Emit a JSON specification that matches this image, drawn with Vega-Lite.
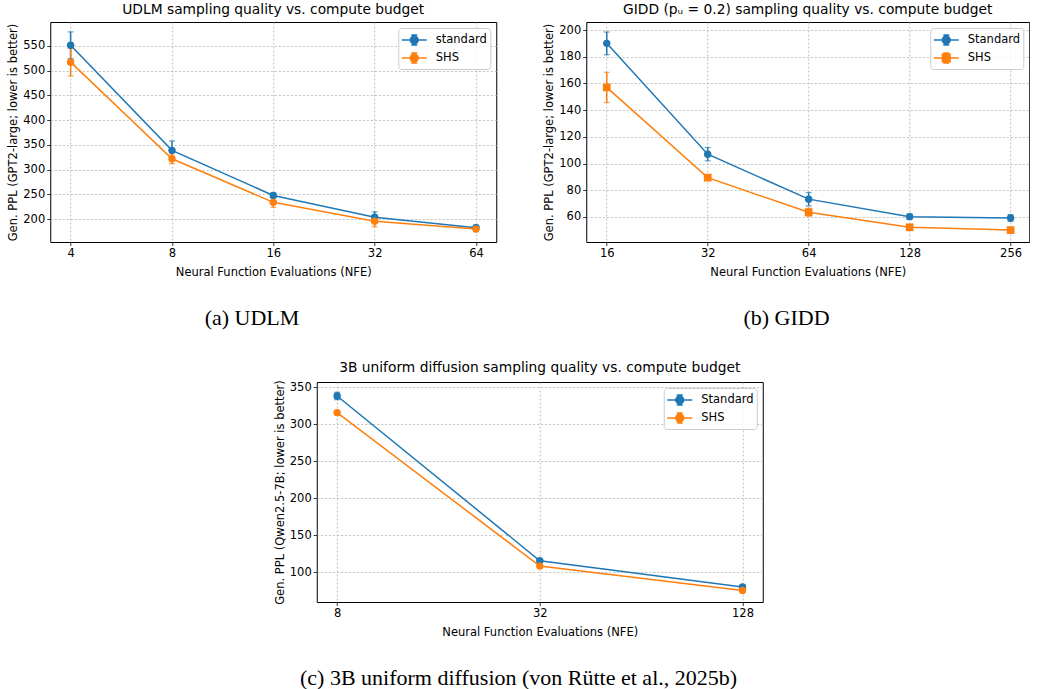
{
  "$schema": "https://vega.github.io/schema/vega-lite/v6.json",
  "background": "white",
  "padding": {"left": 7, "top": 2, "right": 0, "bottom": 0},
  "config": {
    "font": "DejaVu Sans",
    "view": {"stroke": "black", "strokeWidth": 1},
    "axis": {
      "labelFont": "DejaVu Sans", "labelFontSize": 11.5, "labelColor": "black", "labelOverlap": false,
      "titleFont": "DejaVu Sans", "titleFontSize": 11.5, "titleFontWeight": "normal", "titleColor": "black",
      "tickColor": "black", "tickSize": 3.5, "tickWidth": 0.8, "labelPadding": 2, "titlePadding": 4,
      "domain": false, "gridColor": "#b0b0b0", "gridDash": [2, 2], "gridWidth": 0.8
    },
    "axisX": {"titlePadding": 7},
    "title": {"font": "DejaVu Sans", "fontSize": 13.8, "fontWeight": "normal", "color": "black", "frame": "group", "offset": 5},
    "legend": {
      "labelFont": "DejaVu Sans", "labelFontSize": 11.5, "labelColor": "black", "labelOffset": 12, "symbolOffset": 4,
      "strokeColor": "#cccccc", "fillColor": "rgba(255,255,255,0.8)", "cornerRadius": 3, "padding": 2.5,
      "rowPadding": 0, "symbolSize": 289, "title": null, "orient": "top-right", "offset": 6
    }
  },
  "datasets": {
    "a": [
      {"nfe": 4, "method": "standard", "ppl": 551, "lo": 524, "hi": 578},
      {"nfe": 8, "method": "standard", "ppl": 339, "lo": 320, "hi": 358},
      {"nfe": 16, "method": "standard", "ppl": 248, "lo": 243, "hi": 253},
      {"nfe": 32, "method": "standard", "ppl": 204, "lo": 193, "hi": 215},
      {"nfe": 64, "method": "standard", "ppl": 183, "lo": 178, "hi": 188},
      {"nfe": 4, "method": "SHS", "ppl": 517, "lo": 489, "hi": 545},
      {"nfe": 8, "method": "SHS", "ppl": 322, "lo": 312, "hi": 332},
      {"nfe": 16, "method": "SHS", "ppl": 234, "lo": 224, "hi": 244},
      {"nfe": 32, "method": "SHS", "ppl": 196, "lo": 185, "hi": 207},
      {"nfe": 64, "method": "SHS", "ppl": 180, "lo": 175, "hi": 185}
    ],
    "b": [
      {"nfe": 16, "method": "Standard", "ppl": 190, "lo": 181.5, "hi": 198.5},
      {"nfe": 32, "method": "Standard", "ppl": 107, "lo": 102, "hi": 112},
      {"nfe": 64, "method": "Standard", "ppl": 73.3, "lo": 68.3, "hi": 78.3},
      {"nfe": 128, "method": "Standard", "ppl": 60.2, "lo": 58.2, "hi": 62.2},
      {"nfe": 256, "method": "Standard", "ppl": 59.2, "lo": 56.7, "hi": 61.7},
      {"nfe": 16, "method": "SHS", "ppl": 157, "lo": 145.7, "hi": 168.3},
      {"nfe": 32, "method": "SHS", "ppl": 89.4, "lo": 87.9, "hi": 90.9},
      {"nfe": 64, "method": "SHS", "ppl": 63.5, "lo": 60.5, "hi": 66.5},
      {"nfe": 128, "method": "SHS", "ppl": 52.2, "lo": 50.7, "hi": 53.7},
      {"nfe": 256, "method": "SHS", "ppl": 50.1, "lo": 49.1, "hi": 51.1}
    ],
    "c": [
      {"nfe": 8, "method": "Standard", "ppl": 338.4, "lo": 333.4, "hi": 343.4},
      {"nfe": 32, "method": "Standard", "ppl": 115.8, "lo": 113.8, "hi": 117.8},
      {"nfe": 128, "method": "Standard", "ppl": 80.2, "lo": 78.2, "hi": 82.2},
      {"nfe": 8, "method": "SHS", "ppl": 315.9, "lo": 313.9, "hi": 317.9},
      {"nfe": 32, "method": "SHS", "ppl": 108.5, "lo": 106.5, "hi": 110.5},
      {"nfe": 128, "method": "SHS", "ppl": 75.7, "lo": 73.7, "hi": 77.7}
    ]
  },
  "center": true,
  "spacing": 31,
  "resolve": {"scale": {"color": "independent"}, "legend": {"color": "independent"}},
  "vconcat": [
    {
      "resolve": {"scale": {"color": "independent"}, "legend": {"color": "independent"}},
      "hconcat": [
        {
          "title": {"text": "(a) UDLM", "orient": "bottom", "font": "Liberation Serif", "fontSize": 22, "fontWeight": "normal", "frame": "bounds", "anchor": "middle", "offset": 30},
          "resolve": {"scale": {"color": "independent"}, "legend": {"color": "independent"}},
          "vconcat": [
            {
              "title": "UDLM sampling quality vs. compute budget",
              "width": 446, "height": 220,
              "data": {"name": "a"},
              "encoding": {
                "x": {"field": "nfe", "type": "quantitative", "scale": {"type": "log", "base": 2, "domain": [3.48, 73.5], "nice": false},
                      "axis": {"values": [4, 8, 16, 32, 64], "format": "d", "title": "Neural Function Evaluations (NFE)"}},
                "color": {"field": "method", "type": "nominal", "scale": {"domain": ["standard", "SHS"], "range": ["#1f77b4", "#ff7f0e"]},
                          "legend": {"symbolType": "M-1.47,0L1.47,0M0,-0.6L0,0.6M-0.35,-0.6L0.35,-0.6M-0.35,0.6L0.35,0.6M0.47,0A0.47,0.47 0 1 1 -0.47,0A0.47,0.47 0 1 1 0.47,0Z",
                                     "symbolStrokeWidth": 1.5,
                                     "encode": {"symbols": {"update": {
                                       "fill": [{"test": "datum.value === 'SHS'", "value": "#ff7f0e"}, {"value": "#1f77b4"}],
                                       "stroke": [{"test": "datum.value === 'SHS'", "value": "#ff7f0e"}, {"value": "#1f77b4"}],
                                       "strokeWidth": {"value": 1.5}, "opacity": {"value": 1}}}}}}
              },
              "layer": [
                {"mark": {"type": "line", "strokeWidth": 1.5},
                 "encoding": {"y": {"field": "ppl", "type": "quantitative", "scale": {"domain": [154, 598], "nice": false, "zero": false},
                                    "axis": {"values": [200, 250, 300, 350, 400, 450, 500, 550], "title": "Gen. PPL (GPT2-large; lower is better)"}}}},
                {"mark": {"type": "rule", "strokeWidth": 1.5}, "encoding": {"y": {"field": "lo", "type": "quantitative", "axis": {"values": [200, 250, 300, 350, 400, 450, 500, 550], "title": "Gen. PPL (GPT2-large; lower is better)"}}, "y2": {"field": "hi"}}},
                {"mark": {"type": "tick", "orient": "horizontal", "size": 6, "thickness": 1.2}, "encoding": {"y": {"field": "lo", "type": "quantitative", "axis": {"values": [200, 250, 300, 350, 400, 450, 500, 550], "title": "Gen. PPL (GPT2-large; lower is better)"}}}},
                {"mark": {"type": "tick", "orient": "horizontal", "size": 6, "thickness": 1.2}, "encoding": {"y": {"field": "hi", "type": "quantitative", "axis": {"values": [200, 250, 300, 350, 400, 450, 500, 550], "title": "Gen. PPL (GPT2-large; lower is better)"}}}},
                {"mark": {"type": "point", "filled": true, "shape": "circle", "size": 55, "opacity": 1}, "encoding": {"y": {"field": "ppl", "type": "quantitative", "axis": {"values": [200, 250, 300, 350, 400, 450, 500, 550], "title": "Gen. PPL (GPT2-large; lower is better)"}}}}
              ]
            }
          ]
        },
        {
          "title": {"text": "(b) GIDD", "orient": "bottom", "font": "Liberation Serif", "fontSize": 22, "fontWeight": "normal", "frame": "bounds", "anchor": "middle", "offset": 30},
          "resolve": {"scale": {"color": "independent"}, "legend": {"color": "independent"}},
          "vconcat": [
            {
              "title": "GIDD (pᵤ = 0.2) sampling quality vs. compute budget",
              "width": 443, "height": 220,
              "data": {"name": "b"},
              "encoding": {
                "x": {"field": "nfe", "type": "quantitative", "scale": {"type": "log", "base": 2, "domain": [13.9, 291], "nice": false},
                      "axis": {"values": [16, 32, 64, 128, 256], "format": "d", "title": "Neural Function Evaluations (NFE)"}},
                "color": {"field": "method", "type": "nominal", "scale": {"domain": ["Standard", "SHS"], "range": ["#1f77b4", "#ff7f0e"]},
                          "legend": {"symbolType": "M-1.47,0L1.47,0M0,-0.6L0,0.6M-0.35,-0.6L0.35,-0.6M-0.35,0.6L0.35,0.6M0.47,0A0.47,0.47 0 1 1 -0.47,0A0.47,0.47 0 1 1 0.47,0Z",
                                     "symbolStrokeWidth": 1.5,
                                     "encode": {"symbols": {"update": {
                                       "shape": [{"test": "datum.value === 'SHS'", "value": "M-1.47,0L1.47,0M0,-0.6L0,0.6M-0.35,-0.6L0.35,-0.6M-0.35,0.6L0.35,0.6M-0.45,-0.45L0.45,-0.45L0.45,0.45L-0.45,0.45Z"}, {"value": "M-1.47,0L1.47,0M0,-0.6L0,0.6M-0.35,-0.6L0.35,-0.6M-0.35,0.6L0.35,0.6M0.47,0A0.47,0.47 0 1 1 -0.47,0A0.47,0.47 0 1 1 0.47,0Z"}],
                                       "fill": [{"test": "datum.value === 'SHS'", "value": "#ff7f0e"}, {"value": "#1f77b4"}],
                                       "stroke": [{"test": "datum.value === 'SHS'", "value": "#ff7f0e"}, {"value": "#1f77b4"}],
                                       "strokeWidth": {"value": 1.5}, "opacity": {"value": 1}}}}}}
              },
              "layer": [
                {"mark": {"type": "line", "strokeWidth": 1.5},
                 "encoding": {"y": {"field": "ppl", "type": "quantitative", "scale": {"domain": [41.2, 206], "nice": false, "zero": false},
                                    "axis": {"values": [60, 80, 100, 120, 140, 160, 180, 200], "title": "Gen. PPL (GPT2-large; lower is better)"}}}},
                {"mark": {"type": "rule", "strokeWidth": 1.5}, "encoding": {"y": {"field": "lo", "type": "quantitative", "axis": {"values": [60, 80, 100, 120, 140, 160, 180, 200], "title": "Gen. PPL (GPT2-large; lower is better)"}}, "y2": {"field": "hi"}}},
                {"mark": {"type": "tick", "orient": "horizontal", "size": 6, "thickness": 1.2}, "encoding": {"y": {"field": "lo", "type": "quantitative", "axis": {"values": [60, 80, 100, 120, 140, 160, 180, 200], "title": "Gen. PPL (GPT2-large; lower is better)"}}}},
                {"mark": {"type": "tick", "orient": "horizontal", "size": 6, "thickness": 1.2}, "encoding": {"y": {"field": "hi", "type": "quantitative", "axis": {"values": [60, 80, 100, 120, 140, 160, 180, 200], "title": "Gen. PPL (GPT2-large; lower is better)"}}}},
                {"transform": [{"filter": "datum.method === 'Standard'"}],
                 "mark": {"type": "point", "filled": true, "shape": "circle", "size": 55, "opacity": 1},
                 "encoding": {"y": {"field": "ppl", "type": "quantitative", "axis": {"values": [60, 80, 100, 120, 140, 160, 180, 200], "title": "Gen. PPL (GPT2-large; lower is better)"}}}},
                {"transform": [{"filter": "datum.method === 'SHS'"}],
                 "mark": {"type": "point", "filled": true, "shape": "square", "size": 60, "opacity": 1},
                 "encoding": {"y": {"field": "ppl", "type": "quantitative", "axis": {"values": [60, 80, 100, 120, 140, 160, 180, 200], "title": "Gen. PPL (GPT2-large; lower is better)"}}}}
              ]
            }
          ]
        }
      ],
      "spacing": 46
    },
    {
      "title": {"text": "(c) 3B uniform diffusion (von Rütte et al., 2025b)", "orient": "bottom", "font": "Liberation Serif", "fontSize": 22, "fontWeight": "normal", "frame": "bounds", "anchor": "middle", "offset": 30},
      "resolve": {"scale": {"color": "independent"}, "legend": {"color": "independent"}},
      "vconcat": [
        {
          "title": "3B uniform diffusion sampling quality vs. compute budget",
          "width": 446, "height": 220,
          "data": {"name": "c"},
          "encoding": {
            "x": {"field": "nfe", "type": "quantitative", "scale": {"type": "log", "base": 2, "domain": [6.96, 147], "nice": false},
                  "axis": {"values": [8, 32, 128], "format": "d", "title": "Neural Function Evaluations (NFE)"}},
            "color": {"field": "method", "type": "nominal", "scale": {"domain": ["Standard", "SHS"], "range": ["#1f77b4", "#ff7f0e"]},
                      "legend": {"symbolType": "M-1.47,0L1.47,0M0,-0.6L0,0.6M-0.35,-0.6L0.35,-0.6M-0.35,0.6L0.35,0.6M0.47,0A0.47,0.47 0 1 1 -0.47,0A0.47,0.47 0 1 1 0.47,0Z",
                                 "symbolStrokeWidth": 1.5,
                                 "encode": {"symbols": {"update": {
                                   "fill": [{"test": "datum.value === 'SHS'", "value": "#ff7f0e"}, {"value": "#1f77b4"}],
                                   "stroke": [{"test": "datum.value === 'SHS'", "value": "#ff7f0e"}, {"value": "#1f77b4"}],
                                   "strokeWidth": {"value": 1.5}, "opacity": {"value": 1}}}}}}
          },
          "layer": [
            {"mark": {"type": "line", "strokeWidth": 1.5},
             "encoding": {"y": {"field": "ppl", "type": "quantitative", "scale": {"domain": [60, 357.3], "nice": false, "zero": false},
                                "axis": {"values": [100, 150, 200, 250, 300, 350], "title": "Gen. PPL (Qwen2.5-7B; lower is better)"}}}},
            {"mark": {"type": "rule", "strokeWidth": 1.5}, "encoding": {"y": {"field": "lo", "type": "quantitative", "axis": {"values": [100, 150, 200, 250, 300, 350], "title": "Gen. PPL (Qwen2.5-7B; lower is better)"}}, "y2": {"field": "hi"}}},
            {"mark": {"type": "tick", "orient": "horizontal", "size": 6, "thickness": 1.2}, "encoding": {"y": {"field": "lo", "type": "quantitative", "axis": {"values": [100, 150, 200, 250, 300, 350], "title": "Gen. PPL (Qwen2.5-7B; lower is better)"}}}},
            {"mark": {"type": "tick", "orient": "horizontal", "size": 6, "thickness": 1.2}, "encoding": {"y": {"field": "hi", "type": "quantitative", "axis": {"values": [100, 150, 200, 250, 300, 350], "title": "Gen. PPL (Qwen2.5-7B; lower is better)"}}}},
            {"mark": {"type": "point", "filled": true, "shape": "circle", "size": 55, "opacity": 1}, "encoding": {"y": {"field": "ppl", "type": "quantitative", "axis": {"values": [100, 150, 200, 250, 300, 350], "title": "Gen. PPL (Qwen2.5-7B; lower is better)"}}}}
          ]
        }
      ]
    }
  ]
}
